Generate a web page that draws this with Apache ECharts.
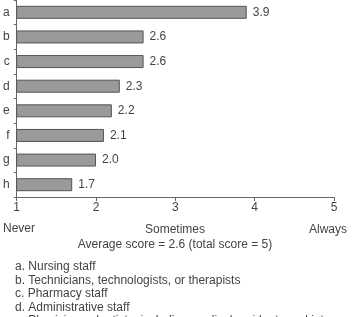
<!DOCTYPE html>
<html>
<head>
<meta charset="utf-8">
<script src="https://cdn.jsdelivr.net/npm/echarts@6/dist/echarts.min.js"></script>
<style>
  html, body { margin: 0; padding: 0; background: #fff; }
  #chart { width: 354px; height: 317px; }
</style>
</head>
<body>
<div id="chart"></div>
<script>
const categories = ['a', 'b', 'c', 'd', 'e', 'f', 'g', 'h'];
const scores = [3.9, 2.6, 2.6, 2.3, 2.2, 2.1, 2.0, 1.7];
const scaleLabels = ['Never', 'Sometimes', 'Always'];
const caption = 'Average score = 2.6 (total score = 5)';
const notes = [
  'a. Nursing staff',
  'b. Technicians, technologists, or therapists',
  'c. Pharmacy staff',
  'd. Administrative staff',
  'e. Physicians, dentists, including medical residents and interns'
];

const font = 'Liberation Sans, Arial, sans-serif';
const textColor = '#444';

const chart = echarts.init(document.getElementById('chart'));

const graphics = [
  { type: 'text', left: 3, top: 223, style: { text: scaleLabels[0], font: '12px ' + font, fill: textColor } },
  { type: 'text', x: 175, y: 230, style: { text: scaleLabels[1], font: '12px ' + font, fill: textColor, align: 'center', verticalAlign: 'middle' } },
  { type: 'text', x: 347, y: 230, style: { text: scaleLabels[2], font: '12px ' + font, fill: textColor, align: 'right', verticalAlign: 'middle' } },
  { type: 'text', x: 175, y: 245, style: { text: caption, font: '12px ' + font, fill: textColor, align: 'center', verticalAlign: 'middle' } }
];
notes.forEach((n, i) => {
  graphics.push({
    type: 'text', x: 15, y: 267 + i * 13.5,
    style: { text: n, font: '12px ' + font, fill: textColor, verticalAlign: 'middle' }
  });
});

chart.setOption({
  animation: false,
  grid: { left: 16, right: 20, top: -3, height: 200 },
  xAxis: {
    type: 'value',
    min: 1,
    max: 5,
    interval: 1,
    splitLine: { show: false },
    axisLine: { show: true, lineStyle: { color: '#666', width: 1 } },
    axisTick: { show: true, length: 4, lineStyle: { color: '#666' } },
    axisLabel: { color: textColor, fontSize: 12, fontFamily: font, margin: 5 }
  },
  yAxis: {
    type: 'category',
    data: categories,
    inverse: true,
    axisLine: { show: true, lineStyle: { color: '#666', width: 1 } },
    axisTick: { show: true, length: 3, lineStyle: { color: '#666' } },
    axisLabel: { color: textColor, fontSize: 12, fontFamily: font, margin: 7 }
  },
  series: [{
    type: 'bar',
    data: scores,
    barWidth: 13,
    itemStyle: { color: '#9a9a9a', borderColor: '#555', borderWidth: 1 },
    label: {
      show: true,
      position: 'right',
      distance: 6,
      color: textColor,
      fontSize: 12,
      fontFamily: font,
      formatter: p => p.value.toFixed(1)
    }
  }],
  graphic: graphics
});
</script>
</body>
</html>
